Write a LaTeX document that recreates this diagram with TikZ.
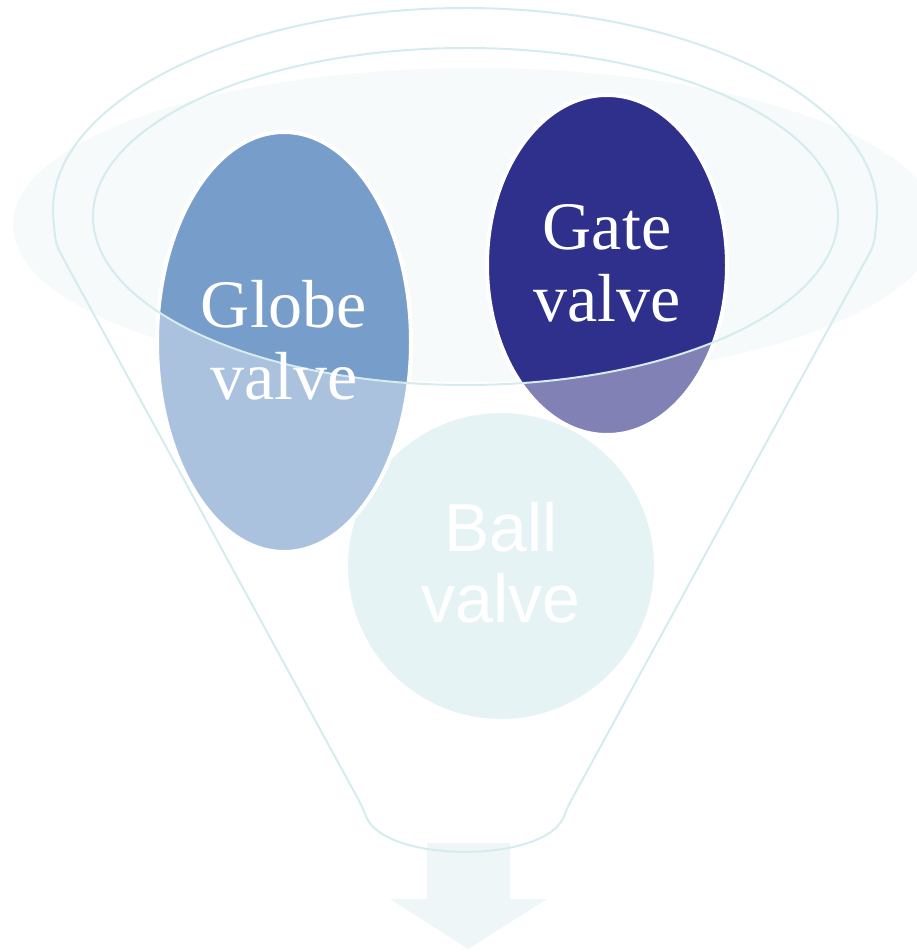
\documentclass[tikz,border=0pt]{standalone}
\usepackage{fontspec}
\newfontfamily\valveserif{Liberation Serif}
\newfontfamily\valvesans{Liberation Sans}

\definecolor{FNLBack}{RGB}{246,250,251}
\definecolor{FNLLine}{RGB}{213,236,239}
\definecolor{FNLArrow}{RGB}{238,246,248}
\definecolor{FNLGlobe}{RGB}{119,157,203}
\definecolor{FNLGlobeLight}{RGB}{171,194,223}
\definecolor{FNLGate}{RGB}{46,48,139}
\definecolor{FNLGateLight}{RGB}{130,129,181}
\definecolor{FNLBall}{RGB}{230,243,245}

\begin{document}
\begin{tikzpicture}[x=1pt,y=-1pt,
    funnelline/.style={draw=FNLLine,line width=2pt},
    valveborder/.style={draw=white,line width=4pt},
    valvelabel/.style={text=white,align=center,inner sep=0pt}]
  \useasboundingbox (0,0) rectangle (916,952);
  % Pixel coordinates of the 916x952 frame, y growing downwards.
  \newcommand{\valveshape}[5]{%
    \fill[#5] (#1,#2) ellipse[x radius=#3,y radius=#4];
  }

  \fill[FNLBack] (475,225) ellipse[x radius=462,y radius=157];
  \fill[FNLArrow] (427,843) -- (510,843) -- (510,899) -- (547,899)
    -- (468,949) -- (390,899) -- (427,899) -- cycle;

  \fill[FNLBall,valveborder] (501,566) circle[radius=155];
  \valveshape{284}{342}{127}{210}{FNLGlobeLight}
  \valveshape{607}{265}{120}{170}{FNLGateLight}
  \begin{scope}
    \clip (465.5,216.5) ellipse[x radius=372.5,y radius=168.5];
    \valveshape{284}{342}{127}{210}{FNLGlobe}
    \valveshape{607}{265}{120}{170}{FNLGate}
  \end{scope}
  \draw[valveborder] (284,342) ellipse[x radius=127,y radius=210];
  \draw[valveborder] (607,265) ellipse[x radius=120,y radius=170];

  \draw[funnelline,rounded corners=8pt] (53,217)
    arc[start angle=180,end angle=360,x radius=412,y radius=209]
    -- (874,245) -- (567,808)
    .. controls (547,864) and (383,864) .. (363,808)
    -- (56,245) -- cycle;
  \draw[funnelline] (465.5,216.5) ellipse[x radius=372.5,y radius=168.5];

  \node[valvelabel,font=\valveserif\fontsize{68}{72}\selectfont]
    (globe) at (284,340) {Globe\\valve};
  \node[valvelabel,font=\valveserif\fontsize{68}{72}\selectfont]
    (gate) at (607,263) {Gate\\valve};
  \node[valvelabel,font=\valvesans\fontsize{68}{71}\selectfont]
    (ball) at (501,563) {Ball\\valve};
\end{tikzpicture}
\end{document}
